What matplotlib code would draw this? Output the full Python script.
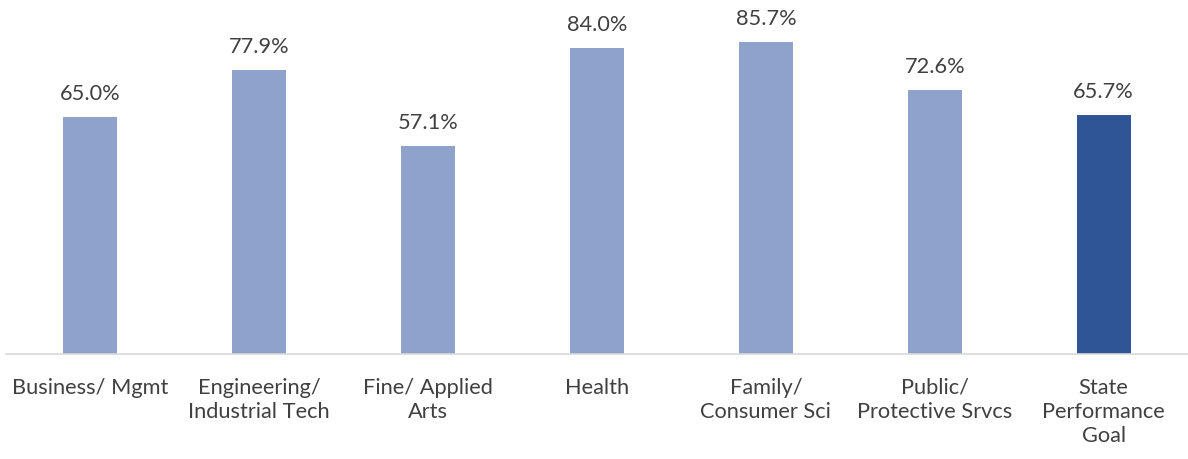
import matplotlib.pyplot as plt

plt.rcParams['font.family'] = ['Lato', 'DejaVu Sans']

categories = ["Business/ Mgmt", "Engineering/\nIndustrial Tech", "Fine/ Applied\nArts",
              "Health", "Family/\nConsumer Sci", "Public/\nProtective Srvcs",
              "State\nPerformance\nGoal"]
values = [65.0, 77.9, 57.1, 84.0, 85.7, 72.6, 65.7]
colors = ["#8FA2CC"] * 6 + ["#2F5597"]

fig = plt.figure(figsize=(11.88, 4.59), dpi=100)
ax = fig.add_axes([6 / 1188, 105 / 459, 1182 / 1188, 354 / 459])

x = range(len(categories))
bars = ax.bar(x, values, width=0.32, color=colors)

for b, v in zip(bars, values):
    ax.text(b.get_x() + b.get_width() / 2, v + 3.6, f"{v:.1f}%",
            ha="center", va="bottom", fontsize=15.7, color="#404040")

ax.set_xlim(-0.5, 6.5)
ax.set_ylim(0, 97.25)
ax.set_xticks(list(x))
ax.set_xticklabels(categories, fontsize=15.7, color="#404040", linespacing=1.26)
ax.tick_params(axis="x", length=0, pad=17)
ax.set_yticks([])
for s in ["top", "right", "left"]:
    ax.spines[s].set_visible(False)
ax.spines["bottom"].set_color("#D9D9D9")
ax.spines["bottom"].set_linewidth(1.2)

fig.savefig("out.png", dpi=100)
